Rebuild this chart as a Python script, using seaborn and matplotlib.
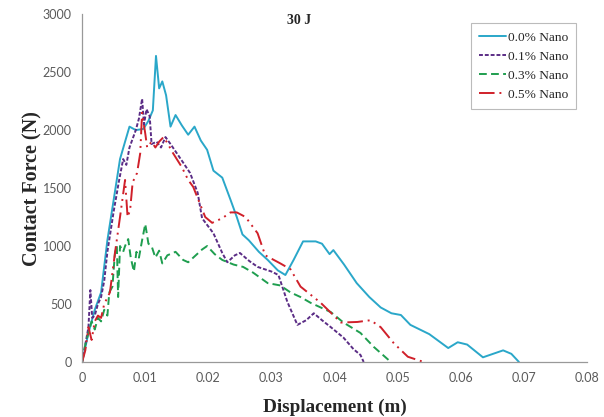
import pandas as pd
import matplotlib.pyplot as plt
import seaborn as sns

# Datos (desplazamiento en m, fuerza en N)
x_00 = [0, 0.001, 0.002, 0.003, 0.004, 0.005, 0.006, 0.0068, 0.0075, 0.0085, 0.0097, 0.0105,
        0.0112, 0.0117, 0.0122, 0.0127, 0.0133, 0.014, 0.0148, 0.0158, 0.0168, 0.0178, 0.0188,
        0.0198, 0.0208, 0.0222, 0.0235, 0.0245, 0.0254, 0.0264, 0.028, 0.0294, 0.031, 0.0322,
        0.0335, 0.035, 0.037, 0.038, 0.0392, 0.0398, 0.0415, 0.0435, 0.0455, 0.0473, 0.049,
        0.0505, 0.052, 0.055, 0.058, 0.0595, 0.061, 0.0635, 0.0667, 0.068, 0.0692]
f_00 = [0, 250, 450, 600, 1050, 1400, 1750, 1900, 2030, 2000, 2010, 2080,
        2170, 2640, 2360, 2420, 2300, 2030, 2130, 2040, 1960, 2030, 1910,
        1830, 1650, 1590, 1400, 1250, 1100, 1050, 950, 880, 790, 750,
        880, 1040, 1040, 1020, 930, 965, 840, 680, 560, 470, 420,
        405, 320, 240, 120, 170, 150, 40, 100, 70, 0]

x_01 = [0, 0.0005, 0.001, 0.0013, 0.0016, 0.002, 0.0025, 0.003, 0.0035, 0.004, 0.005, 0.0058,
        0.0065, 0.007, 0.0075, 0.0085, 0.009, 0.0095, 0.0098, 0.0102, 0.0107, 0.011, 0.0118,
        0.0125, 0.0132, 0.014, 0.015, 0.016, 0.0171, 0.0183, 0.019, 0.0208, 0.0222, 0.023,
        0.0242, 0.025, 0.0265, 0.0278, 0.03, 0.0311, 0.0325, 0.0341, 0.0355, 0.0367, 0.038,
        0.0394, 0.0414, 0.043, 0.0441, 0.0446]
f_01 = [0, 150, 300, 620, 380, 400, 500, 560, 700, 950, 1300, 1550,
        1750, 1700, 1850, 2000, 2100, 2270, 2050, 2180, 2120, 1880, 1900,
        1850, 1940, 1880, 1800, 1720, 1630, 1460, 1240, 1110, 940, 860,
        920, 940, 870, 820, 780, 750, 520, 320, 360, 420, 360,
        300, 210, 110, 60, 0]

x_03 = [0, 0.0005, 0.001, 0.0015, 0.002, 0.0025, 0.003, 0.0035, 0.004, 0.0043, 0.0048, 0.005,
        0.0052, 0.0055, 0.0057, 0.006, 0.0065, 0.0068, 0.0073, 0.0077, 0.0082, 0.0086, 0.009,
        0.0095, 0.01, 0.0105, 0.011, 0.0116, 0.0122, 0.0127, 0.0135, 0.0148, 0.016, 0.0168,
        0.018, 0.019, 0.0198, 0.021, 0.0222, 0.024, 0.0255, 0.0271, 0.0294, 0.0314, 0.033,
        0.0346, 0.0362, 0.0394, 0.0414, 0.0441, 0.0462, 0.0489]
f_03 = [0, 150, 250, 350, 280, 380, 350, 450, 400, 600, 650, 800,
        940, 1000, 560, 1000, 950, 1000, 1060, 900, 780, 950, 900,
        1050, 1190, 1020, 1000, 900, 960, 850, 920, 950, 880, 860,
        920, 970, 1000, 930, 880, 840, 820, 770, 680, 660, 600,
        560, 510, 430, 340, 250, 130, 0]

x_05 = [0, 0.0005, 0.001, 0.0015, 0.002, 0.0025, 0.003, 0.0035, 0.0044, 0.0052, 0.006, 0.0065,
        0.0068, 0.0072, 0.0076, 0.008, 0.0087, 0.0092, 0.0095, 0.01, 0.0103, 0.011, 0.0116,
        0.0122, 0.0129, 0.0136, 0.0143, 0.0158, 0.0168, 0.0176, 0.0184, 0.0195, 0.0206, 0.0222,
        0.0235, 0.0245, 0.0259, 0.0278, 0.029, 0.0314, 0.033, 0.0346, 0.0378, 0.041, 0.0436,
        0.0457, 0.0473, 0.0494, 0.0516, 0.0541]
f_05 = [0, 100, 300, 190, 350, 400, 380, 500, 600, 940, 1250, 1450,
        1570, 1250, 1310, 1550, 1630, 1800, 2150, 1970, 1850, 1900, 1850,
        1900, 1940, 1880, 1810, 1680, 1570, 1510, 1400, 1250, 1200, 1240,
        1290, 1290, 1250, 1110, 920, 850, 800, 650, 510, 340, 345,
        360, 300, 160, 45, 0]

etiquetas = ['0.0% Nano', '0.1% Nano', '0.3% Nano', '0.5% Nano']
colores = ['#2aa7c9', '#5b2d86', '#1f9e4f', '#d0202a']
estilos = [(None, None), (2, 1), (4, 2.2), (8, 2.5, 1, 2.5, 1, 2.5)]

# Armar el dataframe en formato largo
partes = []
for xs, fs, lab in zip([x_00, x_01, x_03, x_05], [f_00, f_01, f_03, f_05], etiquetas):
    partes.append(pd.DataFrame({'Desplazamiento': xs, 'Fuerza': fs, 'Serie': lab}))
df = pd.concat(partes, ignore_index=True)

sns.set_style("white")
fig = plt.figure(figsize=(6.04, 4.17), dpi=100)
ax = fig.add_axes([0.136, 0.132, 0.836, 0.834])

for lab, col, est in zip(etiquetas, colores, estilos):
    d = df[df['Serie'] == lab]
    sns.lineplot(data=d, x='Desplazamiento', y='Fuerza', ax=ax, color=col,
                 sort=False, estimator=None, linewidth=1.4, label=lab)
    if est[0] is not None:
        ax.lines[-1].set_dashes(est)

ax.set_xlim(0, 0.08)
ax.set_ylim(0, 3000)
ax.set_xticks([0, 0.01, 0.02, 0.03, 0.04, 0.05, 0.06, 0.07, 0.08])
ax.set_xticklabels(['0', '0.01', '0.02', '0.03', '0.04', '0.05', '0.06', '0.07', '0.08'])
ax.set_yticks([0, 500, 1000, 1500, 2000, 2500, 3000])

for s in ['top', 'right']:
    ax.spines[s].set_visible(False)
for s in ['left', 'bottom']:
    ax.spines[s].set_color('#999999')
    ax.spines[s].set_linewidth(0.9)

ax.tick_params(axis='both', direction='inout', length=7, width=1, color='#555555',
               labelsize=9, labelcolor='#5a5a5a', pad=4)
for t in ax.get_xticklabels() + ax.get_yticklabels():
    t.set_family('Lato')

ax.set_xlabel('Displacement (m)', fontsize=13.8, fontweight='bold', family='Liberation Serif', labelpad=10)
ax.set_ylabel('Contact Force (N)', fontsize=14.5, fontweight='bold', family='Liberation Serif', labelpad=0)
ax.set_title('30 J', fontsize=10, fontweight='bold', family='Liberation Serif', pad=-7, x=0.43)

leg = ax.legend(loc='upper right', bbox_to_anchor=(0.978, 0.974), borderaxespad=0, frameon=True,
                fancybox=False, prop={'family': 'Liberation Serif', 'size': 9.6}, handlelength=2.0,
                handletextpad=0.15, borderpad=0.6, labelspacing=0.5)
leg.get_frame().set_edgecolor('#aaaaaa')
leg.get_frame().set_linewidth(0.8)

plt.savefig('out.png', dpi=100)
plt.close()
